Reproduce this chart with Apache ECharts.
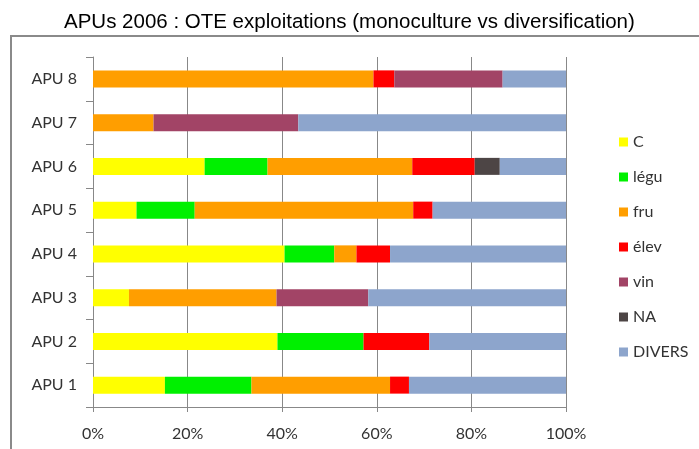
<!DOCTYPE html>
<html>
<head>
<meta charset="utf-8">
<script src="https://cdn.jsdelivr.net/npm/echarts@6/dist/echarts.min.js"></script>
<style>
  html, body { margin: 0; padding: 0; background: #fff; }
  #chart { width: 699px; height: 449px; }
</style>
</head>
<body>
<div id="chart"></div>
<script>
// Share of farm types (OTE) per APU, 2006, in percent
const categories = ['APU 1', 'APU 2', 'APU 3', 'APU 4', 'APU 5', 'APU 6', 'APU 7', 'APU 8'];
const seriesNames = ['C', 'légu', 'fru', 'élev', 'vin', 'NA', 'DIVERS'];
const valC      = [15.2, 39.0,  7.6, 40.5,  9.2, 23.6,  0,    0];
const valLegu   = [18.3, 18.2,  0,   10.5, 12.3, 13.3,  0,    0];
const valFru    = [29.3,  0,   31.2,  4.7, 46.2, 30.6, 12.8, 59.3];
const valElev   = [ 4.0, 13.9,  0,    7.1,  4.1, 13.2,  0,    4.4];
const valVin    = [ 0,    0,   19.4,  0,    0,    0,   30.6, 22.9];
const valNA     = [ 0,    0,    0,    0,    0,    5.3,  0,    0];
const valDivers = [33.2, 28.9, 41.8, 37.2, 28.2, 14.0, 56.6, 13.4];
const xTicks = [0, 20, 40, 60, 80, 100];

const seriesValues = [valC, valLegu, valFru, valElev, valVin, valNA, valDivers];
const colors = ['#FFFF00', '#00F000', '#FF9E00', '#FF0000', '#A24466', '#4D4545', '#8DA5CC'];

const chart = echarts.init(document.getElementById('chart'), null, { renderer: 'canvas' });
const labelFont = 'Lato, "Open Sans", sans-serif';

chart.setOption({
  animation: false,
  backgroundColor: '#fff',
  title: {
    text: 'APUs 2006 : OTE exploitations (monoculture vs diversification)',
    left: 59,
    top: 7,
    textStyle: { fontFamily: '"Liberation Sans", Arial, sans-serif', fontSize: 20.5, fontWeight: 'normal', color: '#000' }
  },
  graphic: [{
    type: 'polyline',
    silent: true,
    shape: { points: [[11, 449], [11, 36], [699, 36]] },
    style: { stroke: '#8a8a8a', lineWidth: 2, fill: null }
  }],
  legend: {
    orient: 'vertical',
    left: 614,
    top: 129,
    itemWidth: 9,
    itemHeight: 9,
    itemGap: 19,
    icon: 'rect',
    data: seriesNames,
    textStyle: { fontFamily: labelFont, fontSize: 16, color: '#333', lineHeight: 16 }
  },
  grid: { left: 93, right: 133, top: 57, bottom: 42, containLabel: false },
  xAxis: {
    type: 'value',
    min: xTicks[0],
    max: xTicks[xTicks.length - 1],
    interval: 20,
    axisLine: { show: true, lineStyle: { color: '#888' } },
    axisTick: { show: true, length: 5, lineStyle: { color: '#888' } },
    splitLine: { show: true, lineStyle: { color: '#888', width: 1 } },
    axisLabel: {
      formatter: '{value}%',
      fontFamily: labelFont, fontSize: 16, color: '#333', margin: 19
    }
  },
  yAxis: {
    type: 'category',
    data: categories,
    axisLine: { show: true, lineStyle: { color: '#888' } },
    axisTick: { show: true, length: 7, alignWithLabel: false, lineStyle: { color: '#888' } },
    axisLabel: { fontFamily: labelFont, fontSize: 16, color: '#333', margin: 16 }
  },
  series: seriesNames.map((name, i) => ({
    name: name,
    type: 'bar',
    stack: 'total',
    barWidth: 17,
    data: seriesValues[i],
    itemStyle: { color: colors[i] }
  }))
});
</script>
</body>
</html>
